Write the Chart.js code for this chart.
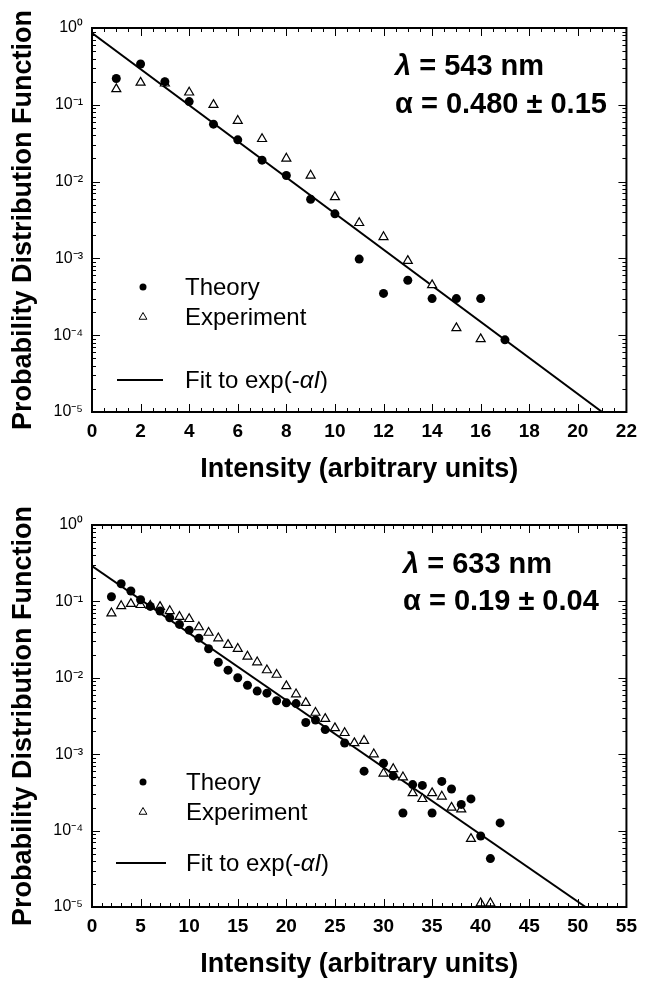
<!DOCTYPE html>
<html>
<head>
<meta charset="utf-8">
<script src="https://cdn.jsdelivr.net/npm/chart.js@4"></script>
<style>
  body { margin: 0; background: #fff; }
  canvas { display: block; }
</style>
</head>
<body>
<canvas id="chart543" width="645" height="492"></canvas>
<canvas id="chart633" width="645" height="493"></canvas>
<script>
const FONT = '"Liberation Sans", Arial, Helvetica, sans-serif';

// y axis decades, same for both panels
const decades = [1, 1e-1, 1e-2, 1e-3, 1e-4, 1e-5];
const decadeLabels = ['10⁰', '10⁻¹', '10⁻²', '10⁻³', '10⁻⁴', '10⁻⁵'];

// top panel : lambda = 543 nm
const theoryX543 = [1, 2, 3, 4, 5, 6, 7, 8, 9, 10, 11, 12, 13, 14, 15, 16, 17];
const theory543 = [0.22, 0.34, 0.20, 0.11, 0.056, 0.035, 0.019, 0.012, 0.0059, 0.0038,
  0.00098, 0.00035, 0.00052, 0.0003, 0.0003, 0.0003, 0.000087];
const experimentX543 = [1, 2, 3, 4, 5, 6, 7, 8, 9, 10, 11, 12, 13, 14, 15, 16];
const experiment543 = [0.16, 0.195, 0.19, 0.145, 0.1, 0.062, 0.036, 0.02, 0.012, 0.0063,
  0.0029, 0.0019, 0.00093, 0.00045, 0.000124, 0.000089];
const fitX543 = [0, 21];
const fit543 = [0.86, 0.00001];

// bottom panel : lambda = 633 nm
const theoryX633 = [2, 3, 4, 5, 6, 7, 8, 9, 10, 11, 12, 13, 14, 15, 16, 17, 18, 19, 20, 21,
  22, 23, 24, 26, 28, 30, 31, 32, 33, 34, 35, 36, 37, 38, 39, 40, 41, 42];
const theory633 = [0.115, 0.17, 0.137, 0.105, 0.086, 0.075, 0.061, 0.05, 0.042, 0.033,
  0.024, 0.016, 0.0126, 0.01, 0.008, 0.0067, 0.0063, 0.005, 0.0047, 0.0046,
  0.0026, 0.0028, 0.0021, 0.0014, 0.0006, 0.00076, 0.00052, 0.00017, 0.0004, 0.00039,
  0.00017, 0.00044, 0.00035, 0.00022, 0.00026, 0.000085, 0.000043, 0.000126];
const experimentX633 = [2, 3, 4, 5, 6, 7, 8, 9, 10, 11, 12, 13, 14, 15, 16, 17, 18, 19, 20, 21,
  22, 23, 24, 25, 26, 27, 28, 29, 30, 31, 32, 33, 34, 35, 36, 37, 38, 39, 40, 41];
const experiment633 = [0.07, 0.087, 0.093, 0.09, 0.088, 0.085, 0.075, 0.063, 0.059, 0.046,
  0.039, 0.033, 0.027, 0.024, 0.019, 0.016, 0.0126, 0.011, 0.0078, 0.0061,
  0.0047, 0.0035, 0.0029, 0.0022, 0.0019, 0.0014, 0.0015, 0.001, 0.00056, 0.00064,
  0.0005, 0.00031, 0.00026, 0.00031, 0.00028, 0.0002, 0.00019, 0.000078, 0.0000112, 0.0000112];
const fitX633 = [0, 50.8];
const fit633 = [0.29, 0.00001];

const pts = (xs, ys) => xs.map((x, i) => ({x: x, y: ys[i]}));

// draws a row of text pieces with different fonts
function drawRuns(ctx, runs, x, y) {
  runs.forEach(r => {
    ctx.font = r.font;
    ctx.fillText(r.text, x, y);
    x += ctx.measureText(r.text).width;
  });
}

// frame, inward ticks on 4 sides, in-plot legend and the lambda/alpha note
const decor = {
  id: 'decor',
  afterDraw(chart, args, opts) {
    const {ctx, chartArea: a, scales: {x, y}} = chart;
    ctx.save();
    ctx.strokeStyle = '#000';
    ctx.fillStyle = '#000';
    ctx.lineWidth = 1;
    ctx.beginPath();
    for (let v = x.min; v <= x.max + 1e-9; v += opts.xMinor) {
      const px = Math.round(x.getPixelForValue(v)) + 0.5;
      const k = v / opts.xMajor;
      const len = Math.abs(k - Math.round(k)) < 1e-6 ? 8 : 4;
      ctx.moveTo(px, a.bottom); ctx.lineTo(px, a.bottom - len);
      ctx.moveTo(px, a.top); ctx.lineTo(px, a.top + len);
    }
    decades.forEach(d => {
      for (let m = 1; m <= 9; m++) {
        const v = d * m;
        if (v > 1.000001) continue;
        const py = Math.round(y.getPixelForValue(v)) + 0.5;
        const len = m === 1 ? 8 : 4;
        ctx.moveTo(a.left, py); ctx.lineTo(a.left + len, py);
        ctx.moveTo(a.right, py); ctx.lineTo(a.right - len, py);
      }
    });
    ctx.stroke();
    ctx.lineWidth = 2;
    ctx.strokeRect(a.left, a.top, a.right - a.left, a.bottom - a.top);

    // legend
    const lg = opts.legend;
    const ds = chart.data.datasets;
    ctx.textBaseline = 'middle';
    ctx.fillStyle = ds[0].backgroundColor;
    ctx.strokeStyle = ds[0].borderColor;
    Chart.helpers.drawPoint(ctx, {pointStyle: 'circle', radius: 3.5, borderWidth: 0},
      a.left + lg.markerX, a.top + lg.rows[0]);
    ctx.fillStyle = ds[1].backgroundColor;
    ctx.strokeStyle = ds[1].borderColor;
    ctx.lineWidth = 1;
    Chart.helpers.drawPoint(ctx, {pointStyle: 'triangle', radius: 4.5, borderWidth: 1},
      a.left + lg.markerX, a.top + lg.rows[1]);
    ctx.strokeStyle = ds[2].borderColor;
    ctx.lineWidth = ds[2].borderWidth;
    ctx.beginPath();
    ctx.moveTo(a.left + lg.lineFrom, a.top + lg.rows[2]);
    ctx.lineTo(a.left + lg.lineTo, a.top + lg.rows[2]);
    ctx.stroke();
    ctx.fillStyle = '#000';
    const reg = `24px ${FONT}`;
    const ita = `italic 24px ${FONT}`;
    drawRuns(ctx, [{text: ds[0].label, font: reg}], a.left + lg.textX, a.top + lg.rows[0] + 1);
    drawRuns(ctx, [{text: ds[1].label, font: reg}], a.left + lg.textX, a.top + lg.rows[1] + 1);
    drawRuns(ctx, [{text: 'Fit to exp(-', font: reg}, {text: 'αI', font: ita}, {text: ')', font: reg}],
      a.left + lg.textX, a.top + lg.rows[2] + 1);

    // note in the upper right
    const nt = opts.note;
    ctx.textBaseline = 'alphabetic';
    const b = `bold 29px ${FONT}`;
    drawRuns(ctx, [{text: 'λ', font: `italic bold 29px ${FONT}`}, {text: ' = ' + nt.lines[0], font: b}],
      a.left + nt.x, a.top + nt.baselines[0]);
    drawRuns(ctx, [{text: 'α = ' + nt.lines[1], font: b}], a.left + nt.x, a.top + nt.baselines[1]);
    ctx.restore();
  }
};

function makeChart(id, p) {
  const titleFont = {family: FONT, size: 27, weight: 'bold', lineHeight: 1};
  return new Chart(document.getElementById(id), {
    type: 'scatter',
    data: {
      datasets: [
        {
          label: 'Theory',
          data: pts(p.theoryX, p.theory),
          pointStyle: 'circle',
          pointRadius: 4.5,
          backgroundColor: '#000',
          borderColor: '#000',
          borderWidth: 0
        },
        {
          label: 'Experiment',
          data: pts(p.experimentX, p.experiment),
          pointStyle: 'triangle',
          pointRadius: 5.2,
          backgroundColor: '#fff',
          borderColor: '#000',
          borderWidth: 1.2,
          clip: false
        },
        {
          label: 'Fit',
          data: pts(p.fitX, p.fit),
          showLine: true,
          pointRadius: 0,
          borderColor: '#000',
          borderWidth: 2,
          fill: false
        }
      ]
    },
    options: {
      responsive: false,
      animation: false,
      events: [],
      layout: {padding: {left: 0, right: p.padRight, top: p.padTop, bottom: 0}},
      plugins: {
        legend: {display: false},
        tooltip: {enabled: false},
        decor: p.decor
      },
      scales: {
        x: {
          type: 'linear',
          min: 0,
          max: p.xMax,
          afterFit: s => { s.height = p.xHeight; },
          grid: {display: false, drawTicks: false},
          border: {display: false},
          ticks: {stepSize: p.xStep, color: '#000', padding: 8, font: {family: FONT, size: 19, weight: 'bold'}},
          title: {display: true, text: 'Intensity (arbitrary units)', color: '#000', font: titleFont,
            padding: {top: 0, bottom: p.titlePad}}
        },
        y: {
          type: 'logarithmic',
          min: 1e-5,
          max: 1,
          afterBuildTicks: s => { s.ticks = decades.map(v => ({value: v})); },
          afterFit: s => { s.width = 92; },
          grid: {display: false, drawTicks: false},
          border: {display: false},
          ticks: {
            color: '#000',
            padding: 9,
            font: {family: FONT, size: 16},
            callback: v => decadeLabels[decades.indexOf(v)] || ''
          },
          title: {display: true, text: 'Probability Distribution Function', color: '#000', font: titleFont,
            padding: {top: 10, bottom: 0}}
        }
      }
    },
    plugins: [decor]
  });
}

makeChart('chart543', {
  theoryX: theoryX543, theory: theory543,
  experimentX: experimentX543, experiment: experiment543,
  fitX: fitX543, fit: fit543,
  xMax: 22, xStep: 2, xHeight: 80, padTop: 28, padRight: 12, titlePad: 9,
  decor: {
    xMinor: 0.5, xMajor: 2,
    legend: {markerX: 51, textX: 93, rows: [259, 289, 352], lineFrom: 25, lineTo: 71},
    note: {x: 303, baselines: [47, 85], lines: ['543 nm', '0.480 ± 0.15']}
  }
});

makeChart('chart633', {
  theoryX: theoryX633, theory: theory633,
  experimentX: experimentX633, experiment: experiment633,
  fitX: fitX633, fit: fit633,
  xMax: 55, xStep: 5, xHeight: 78, padTop: 33, padRight: 11, titlePad: 7,
  decor: {
    xMinor: 1, xMajor: 5,
    legend: {markerX: 51, textX: 94, rows: [257, 287, 338], lineFrom: 24, lineTo: 74},
    note: {x: 311, baselines: [48, 85], lines: ['633 nm', '0.19 ± 0.04']}
  }
});
</script>
</body>
</html>
